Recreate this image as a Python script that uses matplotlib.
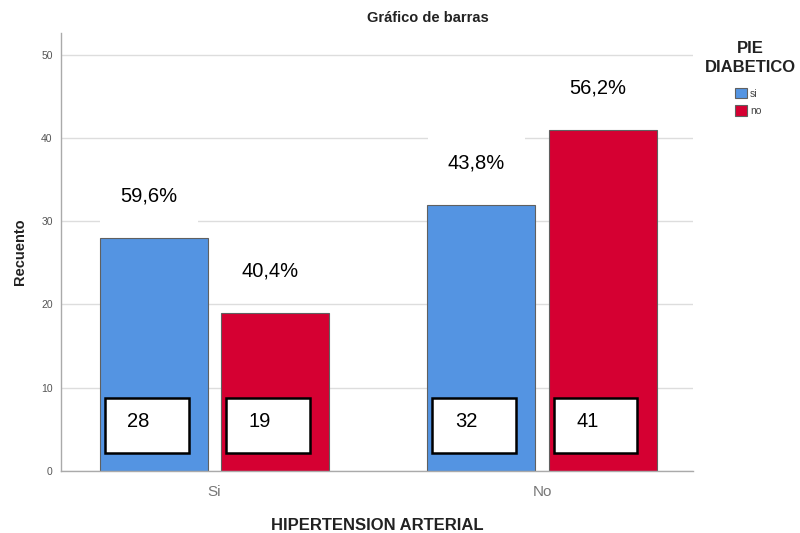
import matplotlib.pyplot as plt
from matplotlib.patches import Rectangle

# Data
categories = ['Si', 'No']
series_names = ['si', 'no']
counts_si = [28, 32]
counts_no = [19, 41]
pct_si = ['59,6%', '43,8%']
pct_no = ['40,4%', '56,2%']
y_ticks = [0, 10, 20, 30, 40, 50]

colors = ['#5494e2', '#d50032']
plt.rcParams['font.family'] = ['Liberation Sans', 'DejaVu Sans']

fig = plt.figure(figsize=(8, 5.33), dpi=100)
ax = fig.add_axes([0.07625, 0.1163, 0.7900, 0.8217])

bar_w = 0.33
offset = 0.185
x = list(range(len(categories)))

# Drawing the bars, the count boxes and the percentage labels
for vals, pcts, col, sgn, name in [(counts_si, pct_si, colors[0], -1, series_names[0]),
                                   (counts_no, pct_no, colors[1], 1, series_names[1])]:
    pos = [xi + sgn * offset for xi in x]
    ax.bar(pos, vals, width=bar_w, color=col, edgecolor='#606060', linewidth=0.8,
           label=name, zorder=2)
    for p, v, t in zip(pos, vals, pcts):
        left = p - bar_w / 2
        ax.add_patch(Rectangle((left + 0.015, 2.16), 0.2565, 6.6, facecolor='white',
                               edgecolor='black', linewidth=1.8, zorder=3))
        ax.text(left + 0.118, 5.9, str(v), fontsize=14.5, ha='center', va='center', zorder=4)
        ax.text(p - 0.015, v + 5.0, t, fontsize=14.5, ha='center', va='center', zorder=4,
                bbox=dict(facecolor='white', edgecolor='none', boxstyle='square,pad=1.0'))

ax.set_xlim(-0.469, 1.461)
ax.set_ylim(0, 52.6)
ax.set_yticks(y_ticks)
ax.set_yticklabels([str(t) for t in y_ticks], fontsize=7.5, color='#555555')
ax.set_xticks(x)
ax.set_xticklabels(categories, fontsize=11, color='#777777')
ax.tick_params(axis='y', length=0, pad=6)
ax.tick_params(axis='x', length=0, pad=10)
ax.grid(axis='y', color='#dddddd', linewidth=1, zorder=0)
ax.set_axisbelow(True)

for s in ['top', 'right']:
    ax.spines[s].set_visible(False)
for s in ['left', 'bottom']:
    ax.spines[s].set_color('#aaaaaa')
    ax.spines[s].set_linewidth(1)

ax.set_ylabel('Recuento', fontsize=10.5, fontweight='bold', color='#222222', labelpad=10)
ax.set_xlabel('HIPERTENSION ARTERIAL', fontsize=12, fontweight='bold', color='#222222', labelpad=14)
fig.text(0.535, 0.966, 'Gráfico de barras', fontsize=10.5, fontweight='bold',
         color='#222222', ha='center', va='center')

# Legend title and entries
fig.text(0.9375, 0.891, 'PIE\nDIABETICO', fontsize=12, fontweight='bold', color='#222222',
         ha='center', va='center', multialignment='center', linespacing=1.35)
leg = ax.legend(loc='upper left', bbox_to_anchor=(0.9065, 0.853),
                bbox_transform=fig.transFigure, frameon=False, fontsize=7.5,
                handlelength=1.2, handleheight=1.2, handletextpad=0.3, labelspacing=0.6)
for h in leg.legend_handles:
    h.set_edgecolor('#606060')
for t in leg.get_texts():
    t.set_color('#444444')

fig.savefig('out.png', dpi=100)
